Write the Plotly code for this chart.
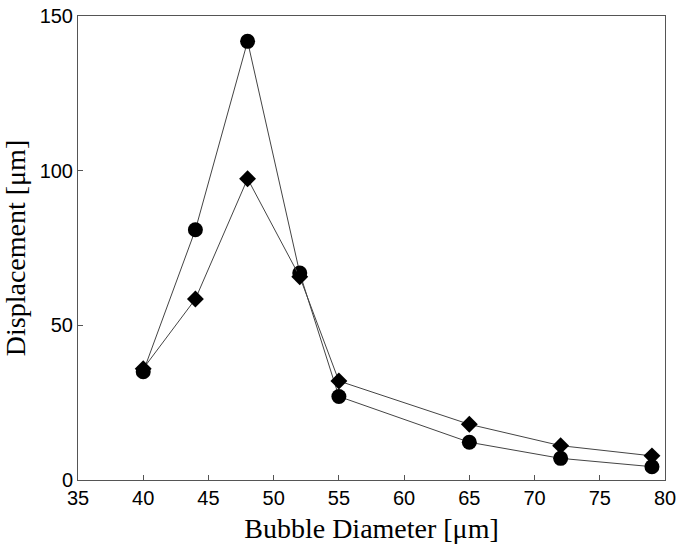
import plotly.graph_objects as go

diameter = [40, 44, 48, 52, 55, 65, 72, 79]
disp_circle = [35.0, 80.9, 141.8, 66.9, 27.0, 12.2, 7.0, 4.3]
disp_diamond = [36.0, 58.5, 97.4, 65.7, 32.0, 18.0, 11.1, 7.8]

x_ticks = [35, 40, 45, 50, 55, 60, 65, 70, 75, 80]
y_ticks = [0, 50, 100, 150]

fig = go.Figure()
fig.add_trace(go.Scatter(
    x=diameter, y=disp_circle, mode="lines+markers",
    line=dict(color="#444444", width=1),
    marker=dict(symbol="circle", size=15, color="black"),
    showlegend=False, cliponaxis=False))
fig.add_trace(go.Scatter(
    x=diameter, y=disp_diamond, mode="lines+markers",
    line=dict(color="#444444", width=1),
    marker=dict(symbol="diamond", size=13, color="black"),
    showlegend=False, cliponaxis=False))

fig.update_layout(
    width=681, height=550, autosize=False,
    margin=dict(l=78, r=16, t=16, b=70, autoexpand=False),
    paper_bgcolor="white", plot_bgcolor="white",
    font=dict(family="Liberation Sans", color="black"),
)
fig.update_xaxes(
    range=[35, 80], tickvals=x_ticks, ticktext=[str(v) for v in x_ticks],
    ticks="inside", ticklen=5, tickcolor="#555555",
    showline=True, linecolor="#555555", linewidth=1, mirror=True,
    showgrid=False, zeroline=False, automargin=False,
    tickfont=dict(family="Liberation Sans", size=20, color="black"),
    title=dict(text="Bubble Diameter [μm]", standoff=10,
               font=dict(family="Liberation Serif", size=28, color="black")),
)
fig.update_yaxes(
    range=[0, 150], tickvals=y_ticks, ticktext=[str(v) for v in y_ticks],
    ticks="inside", ticklen=5, tickcolor="#555555",
    showline=True, linecolor="#555555", linewidth=1, mirror=True,
    showgrid=False, zeroline=False, automargin=False,
    tickfont=dict(family="Liberation Sans", size=20, color="black"),
    title=dict(text="Displacement [μm]", standoff=6,
               font=dict(family="Liberation Serif", size=28, color="black")),
)

fig.write_html("out.html")
